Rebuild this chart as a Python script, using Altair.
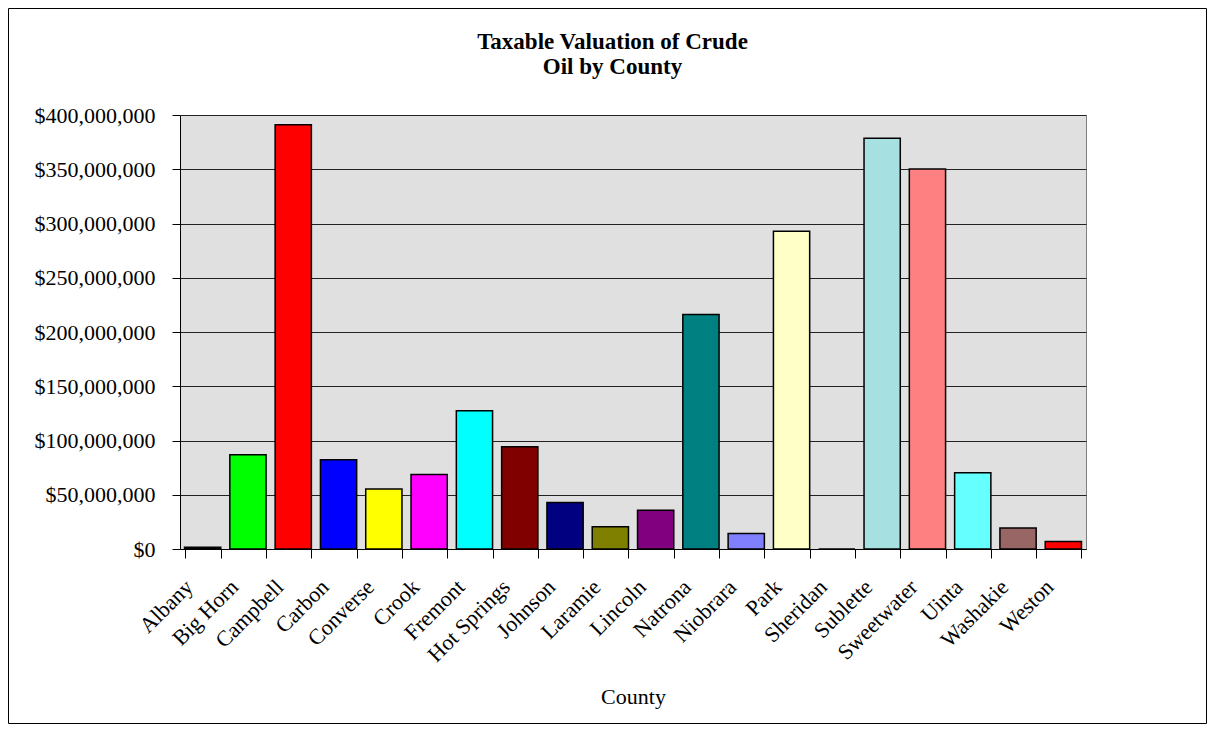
import altair as alt
import pandas as pd

counties = ["Albany", "Big Horn", "Campbell", "Carbon", "Converse", "Crook", "Fremont",
            "Hot Springs", "Johnson", "Laramie", "Lincoln", "Natrona", "Niobrara", "Park",
            "Sheridan", "Sublette", "Sweetwater", "Uinta", "Washakie", "Weston"]
values = [1_500_000, 86_900_000, 391_000_000, 82_300_000, 55_300_000, 68_700_000, 127_400_000,
          94_200_000, 42_900_000, 20_500_000, 35_600_000, 216_100_000, 14_400_000, 292_900_000,
          0, 378_500_000, 350_300_000, 70_300_000, 19_300_000, 7_000_000]
bar_colors = ["#000000", "#00FF00", "#FF0000", "#0000FF", "#FFFF00", "#FF00FF", "#00FFFF",
              "#800000", "#000080", "#808000", "#800080", "#008080", "#8080FF", "#FFFFC8",
              "#FFFFFF", "#A6E0E0", "#FF8080", "#66FFFF", "#996666", "#FF0000"]
y_ticks = [0, 50_000_000, 100_000_000, 150_000_000, 200_000_000, 250_000_000,
           300_000_000, 350_000_000, 400_000_000]
title_lines = ["Taxable Valuation of Crude", "Oil by County"]

df = pd.DataFrame({"County": counties, "Value": values})
FONT = "Liberation Serif"

bars = alt.Chart(df).mark_bar(stroke="black", strokeWidth=1.5).encode(
    x=alt.X("County:N", sort=counties,
            scale=alt.Scale(paddingInner=0.2, paddingOuter=0.1),
            axis=alt.Axis(title="County", labelAngle=315, labelFont=FONT, labelFontSize=22,
                          labelColor="black", labelPadding=18, labelOffset=-21,
                          tickBand="extent", tickSize=9, tickColor="black",
                          domainColor="black", grid=False,
                          titleFont=FONT, titleFontSize=22, titleFontWeight="normal",
                          titleColor="black", titleBaseline="alphabetic", titleY=154)),
    y=alt.Y("Value:Q", scale=alt.Scale(domain=[0, 400_000_000], nice=False),
            axis=alt.Axis(title=None, values=y_ticks, format="$,.0f", labelFont=FONT,
                          labelFontSize=22, labelColor="black", labelPadding=17,
                          tickSize=8, tickColor="black", domainColor="black",
                          grid=True, gridColor="#222222", gridWidth=1)),
    color=alt.Color("County:N", scale=alt.Scale(domain=counties, range=bar_colors), legend=None),
)

frame = alt.Chart(alt.Data(values=[{}])).mark_rect(
    fill=None, stroke="black", strokeWidth=1
).encode(
    x=alt.value(-171.5), x2=alt.value(1026.5), y=alt.value(-106.5), y2=alt.value(608.5)
)

title1 = alt.Chart(alt.Data(values=[{}])).mark_text(
    text=title_lines[0], font=FONT, fontSize=23, fontWeight="bold", color="black",
    align="center", baseline="alphabetic"
).encode(x=alt.value(432.5), y=alt.value(-66.5))

title2 = alt.Chart(alt.Data(values=[{}])).mark_text(
    text=title_lines[1], font=FONT, fontSize=23, fontWeight="bold", color="black",
    align="center", baseline="alphabetic"
).encode(x=alt.value(432.5), y=alt.value(-41.5))

chart = alt.layer(frame, bars, title1, title2).properties(
    width=906, height=434,
    padding={"left": 172, "top": 107, "right": 121, "bottom": 175},
    autosize=alt.AutoSizeParams(type="none"),
).configure_view(fill="#E0E0E0", stroke="#808080", strokeWidth=1)

chart.save("out.html", embed_options={"renderer": "svg", "actions": False})
